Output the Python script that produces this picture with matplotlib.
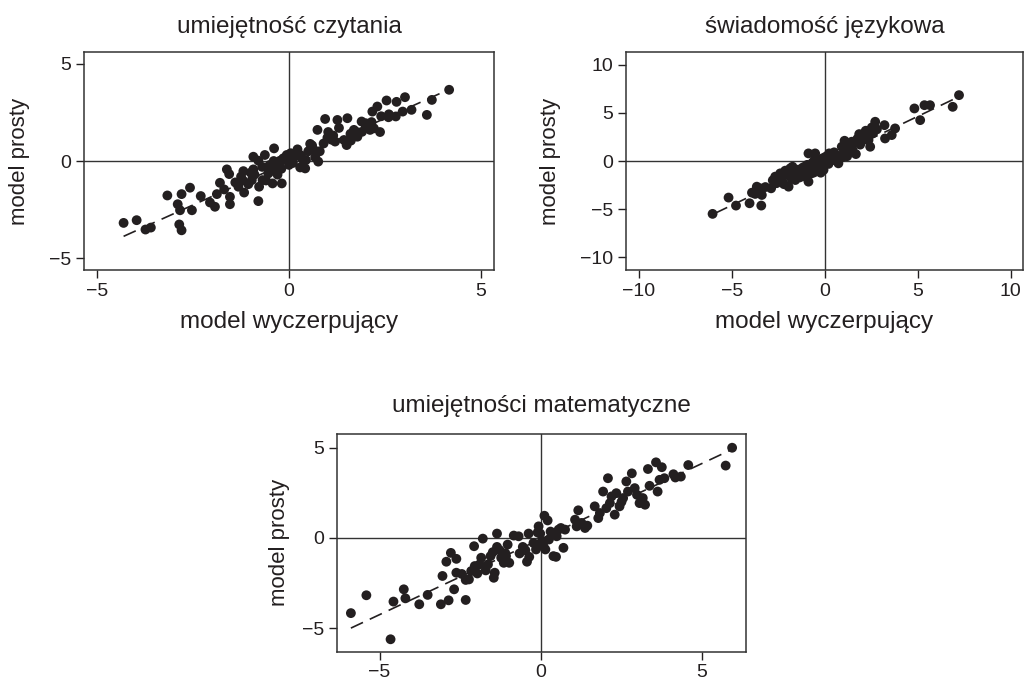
import matplotlib
matplotlib.use("Agg")
import matplotlib.pyplot as plt
import numpy as np

plt.rcParams['font.family'] = ['Liberation Sans', 'DejaVu Sans']

INK = "#231f20"

# --- umiejętność czytania ---
read_x = [-4.31, -3.97, -3.74, -3.60, -3.17, -2.80, -2.58, -2.90, -2.84, -2.86,
          -2.80, -2.53, -2.30, -2.06, -1.93, -1.88, -1.80, -1.69, -1.62, -1.56,
          -1.54, -1.54, -1.32, -1.19, -1.17, -1.06, -0.97, -0.93, -0.93, -0.80,
          -0.78, -0.80, -0.63, -0.58, -0.54, -0.69, -0.39, -0.43, -0.19, -0.32,
          -0.23, -0.15, -0.06, 0.04, 0.13, 0.22, 0.29, 0.42, 0.44, 0.55,
          0.65, 0.68, 0.76, 0.74, 0.94, 1.02, 1.15, 1.26, 1.52, 1.43,
          1.50, 1.61, 1.69, 1.78, 1.89, 2.00, 2.11, 2.17, 2.21, 2.30,
          2.37, 2.54, 2.59, 2.78, 2.80, 3.02, 2.96, 3.19, 3.59, 3.72,
          4.17, -0.50, -0.20, 0.10, -0.90, -1.20, -0.40, 0.30, 0.90, 1.10,
          0.80, 1.30, 1.60, 2.00, -1.40, -0.70, 0.00, -0.30, -0.60, 0.50,
          1.90, 2.40, 1.00, -1.00, -0.10, 0.35, 0.60, 1.20, 1.75, -1.25,
          -0.45, 0.20, 2.15, 2.60]
read_y = [-3.18, -3.04, -3.52, -3.42, -1.77, -1.70, -1.37, -2.22, -2.53, -3.26,
          -3.56, -2.53, -1.80, -2.13, -2.35, -1.70, -1.12, -1.46, -0.43, -0.67,
          -2.22, -1.84, -1.32, -0.52, -1.62, -1.19, -0.98, -0.43, 0.22, 0.02,
          -1.32, -2.06, 0.31, -0.33, -0.64, -0.98, 0.65, -1.15, -1.15, -0.33,
          0.02, 0.14, 0.31, 0.40, 0.19, 0.60, -0.33, -0.38, 0.05, 0.88,
          0.57, 0.19, -0.03, 1.60, 2.16, 1.49, 1.31, 2.11, 2.20, 1.08,
          0.82, 1.05, 1.60, 1.25, 2.03, 1.94, 1.60, 2.54, 1.68, 2.80,
          1.49, 3.11, 2.25, 2.29, 3.04, 3.28, 2.54, 2.63, 2.37, 3.14,
          3.66, -0.20, -0.40, -0.10, -0.70, -1.00, 0.00, 0.30, 0.90, 1.10,
          0.50, 1.70, 1.40, 1.80, -1.10, -0.30, -0.20, -0.70, -1.00, 0.50,
          1.50, 2.30, 1.20, -0.60, 0.10, 0.10, 0.80, 1.00, 1.50, -0.80,
          -0.50, 0.45, 2.00, 2.40]
read_fit_x = [-4.31, 4.10]
read_fit_y = [-3.87, 3.62]

# --- świadomość językowa ---
lang_x = [-6.04, -5.18, -4.78, -4.05, -3.42, -3.92, -3.66, -3.48, -3.39, -3.75,
          -2.89, -2.67, -2.40, -2.13, -1.86, -1.74, -1.95, -1.59, -1.38, -1.20,
          -1.06, -0.88, -0.97, -0.79, -0.88, -0.52, -0.66, -0.43, -0.22, -0.07,
          -0.34, -0.16, 0.11, 0.23, 0.56, 0.73, 0.91, 1.06, 1.27, 1.49,
          1.67, 1.45, 1.85, 2.03, 2.35, 2.20, 2.44, 2.53, 2.71, 2.80,
          3.21, 3.24, 3.78, 3.60, 4.82, 5.13, 5.36, 5.66, 6.88, 7.22,
          -1.50, -1.00, -0.50, 0.00, 0.30, 0.60, 1.00, 1.30, -0.30, 0.40,
          -2.30, -1.80, -1.20, -0.60, 0.80, 1.90, 2.10, -2.60, 1.20, 0.20,
          -2.00, -1.65, -1.35, -1.10, -0.75, -0.40, -0.10, 0.15, 0.45, 0.70,
          0.95, 1.15, 1.40, 1.60, -2.20, -1.45, -0.95, -0.55, 0.05, 0.50,
          -3.20, -2.80, 1.75, 2.30, 2.60]
lang_y = [-5.48, -3.79, -4.62, -4.38, -4.62, -3.28, -2.66, -2.83, -3.52, -3.41,
          -2.83, -1.62, -1.28, -1.00, -0.76, -0.59, -2.66, -1.97, -1.45, -1.21,
          -1.62, -2.14, -0.86, -0.52, 0.79, 0.79, -0.17, -0.76, -1.21, -0.93,
          0.10, -0.24, 0.28, 0.79, 0.62, -0.24, 1.48, 2.10, 1.14, 1.14,
          0.72, 2.00, 2.79, 2.52, 2.17, 3.14, 1.48, 3.48, 4.07, 3.28,
          3.72, 2.34, 3.38, 2.69, 5.45, 4.24, 5.79, 5.79, 5.62, 6.83,
          -1.50, -1.00, -0.50, -0.20, 0.20, 0.60, 0.80, 1.50, -0.10, 0.50,
          -2.00, -1.80, -0.70, -1.20, 0.30, 1.70, 2.20, -2.30, 0.50, -0.30,
          -1.40, -1.20, -1.70, -0.60, -1.30, -0.90, 0.30, 0.00, 0.10, 0.20,
          0.40, 1.40, 1.00, 1.90, -2.40, -0.90, -0.40, 0.10, 0.45, 0.90,
          -2.70, -2.00, 2.30, 2.60, 2.90]
lang_fit_x = [-5.90, 7.01]
lang_fit_y = [-5.41, 6.48]

# --- umiejętności matematyczne ---
math_x = [-5.89, -5.41, -4.66, -4.57, -4.25, -4.20, -3.77, -3.51, -3.10, -2.86,
          -3.05, -2.93, -2.79, -2.62, -2.69, -2.62, -2.33, -2.33, -2.23, -2.16,
          -2.07, -2.05, -1.97, -1.90, -1.85, -1.80, -1.71, -1.64, -1.56, -1.49,
          -1.46, -1.43, -1.36, -1.36, -1.28, -1.23, -1.15, -1.08, -1.03, -0.98,
          -0.84, -0.69, -0.66, -0.56, -0.48, -0.43, -0.38, -0.36, -0.23, -0.15,
          -0.07, -0.02, 0.03, 0.08, 0.11, 0.14, 0.21, 0.25, 0.39, 0.47,
          0.49, 0.55, 0.62, 0.70, 0.75, 1.06, 1.11, 1.16, 1.26, 1.37,
          1.44, 1.67, 1.78, 1.83, 1.93, 2.03, 2.08, 2.14, 2.19, 2.29,
          2.34, 2.44, 2.55, 2.65, 2.70, 2.82, 2.91, 2.98, 3.06, 3.16,
          3.23, 3.32, 3.37, 3.57, 3.62, 3.68, 3.75, 3.83, 4.11, 4.17,
          4.34, 4.57, 5.73, 5.93, -0.10, 0.00, 0.30, -2.45, -1.10, 2.50]
math_y = [-4.17, -3.18, -5.62, -3.53, -2.85, -3.35, -3.68, -3.16, -3.68, -3.46,
          -2.11, -1.32, -0.83, -1.16, -2.85, -1.93, -3.44, -2.33, -2.30, -1.84,
          -0.46, -1.56, -1.97, -1.47, -1.10, -0.04, -1.80, -1.47, -1.01, -0.79,
          -2.21, -1.93, 0.24, -0.50, -0.68, -1.10, -1.38, -1.01, -0.37, -1.38,
          0.13, 0.09, -0.86, -0.50, -0.68, -1.32, 0.24, -1.05, -0.28, -0.64,
          0.64, 0.24, -0.18, -0.46, 1.23, -0.64, 0.97, -0.09, -1.01, -1.05,
          0.09, 0.46, 0.55, -0.55, 0.46, 1.01, 0.64, 1.53, 0.83, 0.55,
          0.68, 1.75, 1.10, 1.38, 2.57, 1.65, 3.31, 1.93, 2.30, 1.29,
          2.48, 1.75, 2.21, 3.13, 2.57, 3.58, 2.76, 2.39, 1.93, 2.21,
          1.84, 3.82, 2.89, 4.19, 2.57, 3.22, 3.92, 3.31, 3.53, 3.35,
          3.40, 4.04, 4.01, 5.00, 0.30, -0.40, 0.35, -2.00, -0.85, 2.00]
math_fit_x = [-5.89, 5.93]
math_fit_y = [-5.00, 4.91]

panels = [
    dict(title="umiejętność czytania", x=read_x, y=read_y, fx=read_fit_x, fy=read_fit_y,
         rect=[0.0820, 0.6041, 0.4000, 0.3196], xlim=(-5.34, 5.34), ylim=(-5.6, 5.6),
         ticks=[-5, 0, 5], yticks=[-5, 0, 5], xlabel="model wyczerpujący", lpad=14, tpad=14),
    dict(title="świadomość językowa", x=lang_x, y=lang_y, fx=lang_fit_x, fy=lang_fit_y,
         rect=[0.6107, 0.6041, 0.3873, 0.3196], xlim=(-10.7, 10.66), ylim=(-11.3, 11.3),
         ticks=[-10, -5, 0, 5, 10], yticks=[-10, -5, 0, 5, 10], xlabel="model wyczerpujący",
         lpad=14, tpad=14),
    dict(title="umiejętności matematyczne", x=math_x, y=math_y, fx=math_fit_x, fy=math_fit_y,
         rect=[0.3288, 0.0444, 0.3990, 0.3192], xlim=(-6.32, 6.36), ylim=(-6.31, 5.76),
         ticks=[-5, 0, 5], yticks=[-5, 0, 5], xlabel=None, lpad=9, tpad=16),
]

fig = plt.figure(figsize=(10.25, 6.82), dpi=100)

for p in panels:
    ax = fig.add_axes(p["rect"])
    ax.axhline(0, color="#333333", lw=1.0, zorder=1)
    ax.axvline(0, color="#333333", lw=1.0, zorder=1)
    ax.plot(p["fx"], p["fy"], color=INK, lw=1.2, dashes=(8, 4.5), zorder=2)
    ax.scatter(p["x"], p["y"], s=50, color=INK, edgecolors="none", zorder=3)
    ax.set_xlim(*p["xlim"])
    ax.set_ylim(*p["ylim"])
    ax.set_xticks(p["ticks"])
    ax.set_yticks(p["yticks"])
    ax.tick_params(direction="out", length=5.5, width=1.0, pad=3.5,
                   labelsize=14, colors=INK)
    for s in ax.spines.values():
        s.set_linewidth(1.1)
        s.set_color("#333333")
    ax.set_title(p["title"], fontsize=17.5, pad=p["tpad"], color=INK)
    ax.set_ylabel("model prosty", fontsize=16, labelpad=p["lpad"], color=INK)
    if p["xlabel"]:
        ax.set_xlabel(p["xlabel"], fontsize=17.5, labelpad=8, color=INK)

fig.savefig("out.png", dpi=100)
